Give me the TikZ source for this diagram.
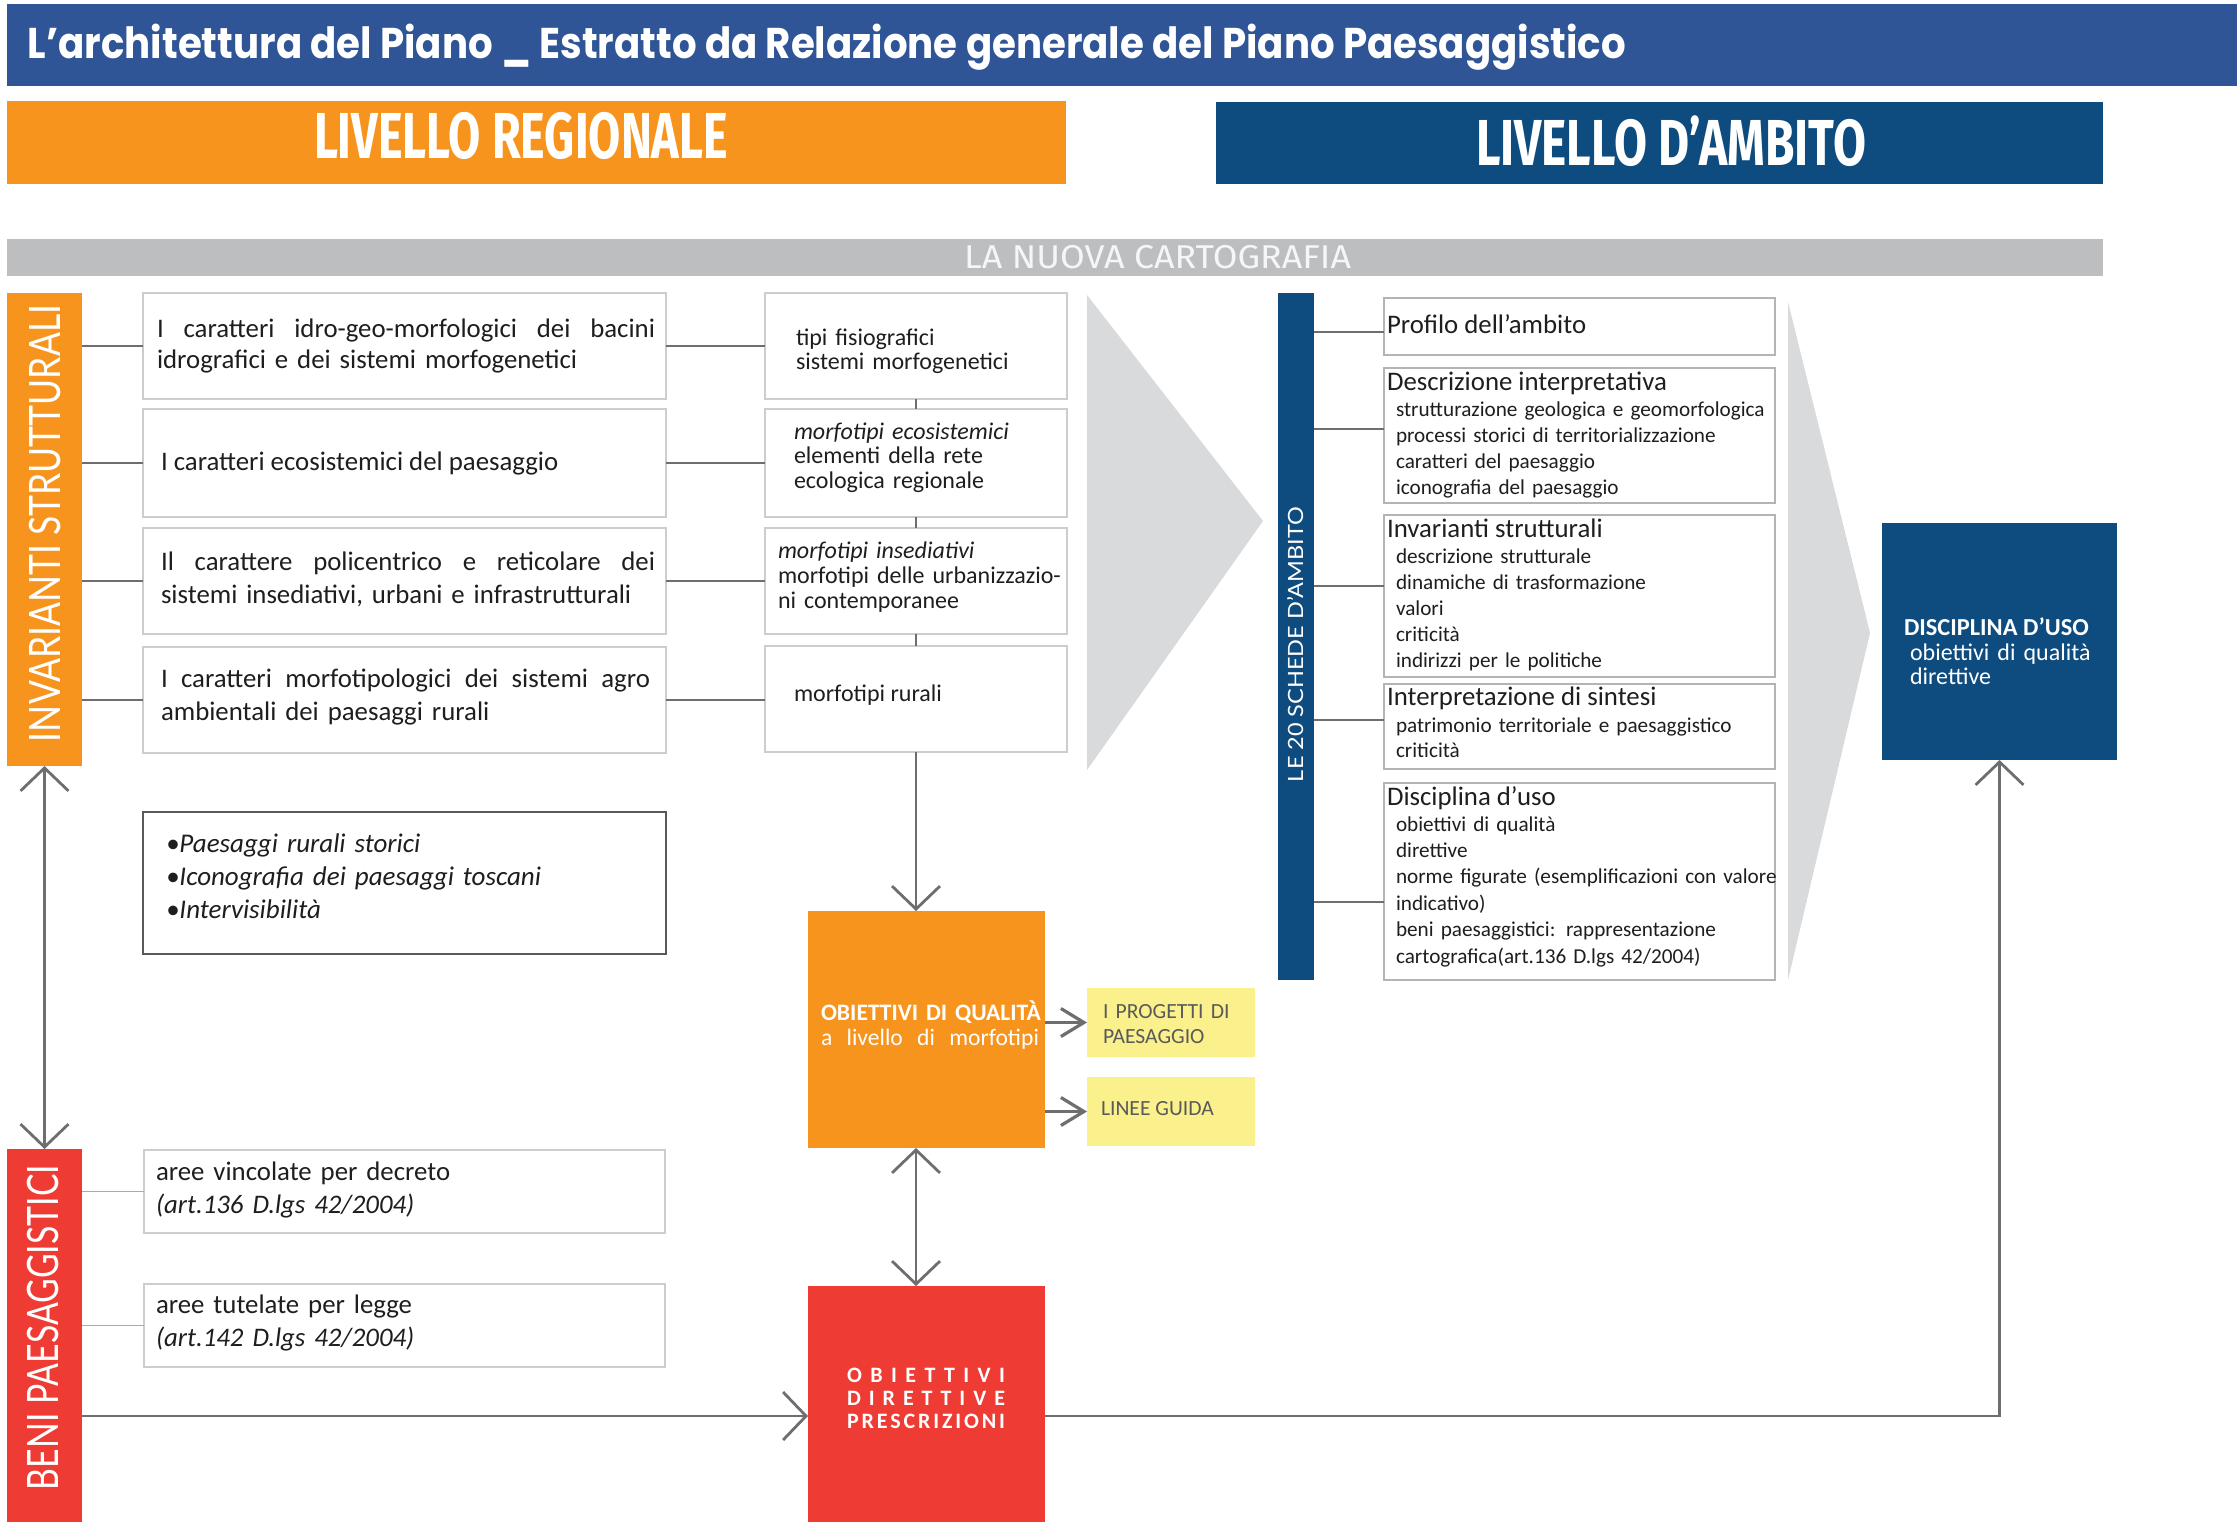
\documentclass[tikz,border=0pt]{standalone}
\usepackage{graphicx}
\usepackage{fontspec}
\setmainfont{Carlito}
\newfontfamily\popf{Poppins}
\newfontfamily\firaf{Fira Sans}
\newfontfamily\latof{Lato}
\usetikzlibrary{arrows.meta,calc}
\definecolor{titleblue}{RGB}{47,85,151}
\definecolor{orng}{RGB}{247,148,30}
\definecolor{dblue}{RGB}{14,76,127}
\definecolor{barg}{RGB}{189,190,192}
\definecolor{chev}{RGB}{217,218,220}
\definecolor{redb}{RGB}{238,59,51}
\definecolor{yel}{RGB}{250,240,140}
\definecolor{conn}{RGB}{110,110,112}
\definecolor{connl}{RGB}{170,170,170}
\definecolor{boxb}{RGB}{205,205,205}
\definecolor{boxc}{RGB}{180,180,180}
\definecolor{txt}{RGB}{30,30,30}
\definecolor{ytxt}{RGB}{90,90,90}
\newcommand{\fs}[2]{\fontsize{#1}{#2}\selectfont}
\newcommand{\hw}[2]{\resizebox{#1}{\height}{#2}}
\newcommand{\jline}[2]{\makebox[#1][s]{\spaceskip=0.22em plus 1fil\relax #2}}
\tikzset{
  fl/.style={inner sep=0pt, outer sep=0pt, anchor=north west},
  bx/.style={fl, draw=boxb, line width=0.75pt, fill=white},
  bxr/.style={fl, draw=boxc, line width=0.75pt, fill=white},
  tx/.style={inner sep=0pt, outer sep=0pt, anchor=base west, text=txt, align=left},
  cn/.style={draw=conn, line width=1.2pt},
  cnl/.style={draw=connl, line width=0.8pt},
  arrbig/.style={draw=conn, line width=1.4pt, -{Straight Barb[length=11.5pt,width=24pt]}},
  arrboth/.style={draw=conn, line width=1.4pt, {Straight Barb[length=11.5pt,width=24pt]}-{Straight Barb[length=11.5pt,width=24pt]}},
  arrsm/.style={draw=conn, line width=1.6pt, -{Straight Barb[length=11.5pt,width=14pt]}},
  rot/.style={inner sep=0pt, outer sep=0pt, anchor=base west, rotate=90, text=white}
}
\begin{document}
\begin{tikzpicture}[x=0.5pt,y=-0.5pt]
\useasboundingbox (0,0) rectangle (2237,1526);
\fill[white] (0,0) rectangle (2237,1526);
% chevrons
\fill[chev] (1087,295) -- (1263,521) -- (1087,770) -- cycle;
\fill[chev] (1788,302) -- (1870,633) -- (1788,980) -- cycle;
% header bars
\node[fl, fill=titleblue, minimum width=1115pt, minimum height=41pt] (ttl) at (7,4) {};
\node[tx, text=white, font=\popf\bfseries\fs{21.5pt}{22pt}] (ttltx) at (28,58) {\hw{799pt}{L’architettura del Piano \_ Estratto da Relazione generale del Piano Paesaggistico}};
\node[fl, fill=orng, minimum width=529.5pt, minimum height=41.5pt] (reg) at (7,101) {};
\node[tx, text=white, font=\firaf\bfseries\fs{32.5pt}{33pt}] (regtx) at (314,158) {\hw{207pt}{LIVELLO REGIONALE}};
\node[fl, fill=dblue, minimum width=443.5pt, minimum height=41pt] (amb) at (1216,102) {};
\node[tx, text=white, font=\firaf\bfseries\fs{32.5pt}{33pt}] (ambtx) at (1476,165) {\hw{195pt}{LIVELLO D’AMBITO}};
\node[fl, fill=barg, minimum width=1048pt, minimum height=18.5pt] (carto) at (7,239) {};
\node[tx, text={rgb,255:red,246;green,246;blue,246}, font=\firaf\fs{16.5pt}{17pt}] (cartotx) at (964,268) {\hw{193.5pt}{LA NUOVA CARTOGRAFIA}};
% vertical bars
\node[fl, fill=orng, minimum width=37.5pt, minimum height=236.5pt] (inv) at (7,293) {};
\node[rot, font=\latof\fs{21.6pt}{22pt}] (invtx) at (60,742) {\hw{218.5pt}{INVARIANTI STRUTTURALI}};
\node[fl, fill=redb, minimum width=37.5pt, minimum height=186.5pt] (beni) at (7,1149) {};
\node[rot, font=\latof\fs{21.6pt}{22pt}] (benitx) at (58,1490) {\hw{162.5pt}{BENI PAESAGGISTICI}};
\node[fl, fill=dblue, minimum width=18pt, minimum height=343.5pt] (sch) at (1278,293) {};
\node[rot, font=\latof\fs{10.5pt}{11pt}] (schtx) at (1303,782) {\hw{137.5pt}{LE 20 SCHEDE D’AMBITO}};
% column 1 boxes
\node[bx, minimum width=261.5pt, minimum height=53pt] (c1a) at (143,293) {};
\node[bx, minimum width=261.5pt, minimum height=54pt] (c1b) at (143,409) {};
\node[bx, minimum width=261.5pt, minimum height=53pt] (c1c) at (143,528) {};
\node[bx, minimum width=261.5pt, minimum height=53pt] (c1d) at (143,647) {};
\node[tx, text width=255pt, font=\fs{13.4pt}{15.5pt}] (t1a) at (157,337) {\jline{249pt}{I caratteri idro-geo-morfologici dei bacini}\\idrografici e dei sistemi morfogenetici};
\node[tx, font=\fs{13.4pt}{15.5pt}] (t1b) at (161,470) {I caratteri ecosistemici del paesaggio};
\node[tx, text width=255pt, font=\fs{13.4pt}{16.5pt}] (t1c) at (161,570) {\jline{247pt}{Il carattere policentrico e reticolare dei}\\sistemi insediativi, urbani e infrastrutturali};
\node[tx, text width=255pt, font=\fs{13.4pt}{16.5pt}] (t1d) at (161,687) {\jline{244.5pt}{I caratteri morfotipologici dei sistemi agro}\\ambientali dei paesaggi rurali};
% column 2 boxes
\node[bx, minimum width=151pt, minimum height=53pt] (c2a) at (765,293) {};
\node[bx, minimum width=151pt, minimum height=54pt] (c2b) at (765,409) {};
\node[bx, minimum width=151pt, minimum height=53pt] (c2c) at (765,528) {};
\node[bx, minimum width=151pt, minimum height=53pt] (c2d) at (765,646) {};
\node[tx, text width=150pt, font=\fs{12pt}{12pt}] (t2a) at (796,345) {tipi fisiografici\\sistemi morfogenetici};
\node[tx, text width=150pt, font=\fs{12pt}{12.4pt}] (t2b) at (794,439) {\textit{morfotipi ecosistemici}\\elementi della rete\\ecologica regionale};
\node[tx, text width=150pt, font=\fs{12pt}{12.5pt}] (t2c) at (778,558) {\textit{morfotipi insediativi}\\morfotipi delle urbanizzazio-\\ni contemporanee};
\node[tx, font=\fs{12pt}{12.5pt}] (t2d) at (794,701) {morfotipi rurali};
% bullet box
\node[fl, draw=black!65, line width=1.3pt, fill=white, minimum width=261.5pt, minimum height=71pt] (bul) at (143,812) {};
\node[tx, text width=250pt, font=\fs{13.5pt}{16.5pt}\itshape] (tbul) at (166,852) {•Paesaggi rurali storici\\•Iconografia dei paesaggi toscani\\•Intervisibilità};
% beni boxes
\node[bx, minimum width=260.5pt, minimum height=41.5pt] (b1) at (144,1150) {};
\node[bx, minimum width=260.5pt, minimum height=41.5pt] (b2) at (144,1284) {};
\node[tx, text width=250pt, font=\fs{13.4pt}{16.5pt}] (tb1) at (156,1180) {aree vincolate per decreto\\\textit{(art.136 D.lgs 42/2004)}};
\node[tx, text width=250pt, font=\fs{13.4pt}{16.5pt}] (tb2) at (156,1313) {aree tutelate per legge\\\textit{(art.142 D.lgs 42/2004)}};
% orange / red / yellow boxes
\node[fl, fill=orng, minimum width=118.5pt, minimum height=118.5pt] (obj) at (808,911) {};
\node[tx, text=white, text width=115pt, font=\fs{11.8pt}{12.5pt}] (tobj) at (821,1020) {\textbf{OBIETTIVI DI QUALITÀ}\\\jline{109pt}{a livello di morfotipi}};
\node[fl, fill=redb, minimum width=118.5pt, minimum height=118pt] (red) at (808,1286) {};
\node[tx, text=white, text width=90pt, font=\bfseries\fs{11pt}{11.5pt}] (tred) at (847,1382) {\makebox[79pt][s]{O\hfill B\hfill I\hfill E\hfill T\hfill T\hfill I\hfill V\hfill I}\\\makebox[79pt][s]{D\hfill I\hfill R\hfill E\hfill T\hfill T\hfill I\hfill V\hfill E}\\\makebox[79pt][s]{P\hfill R\hfill E\hfill S\hfill C\hfill R\hfill I\hfill Z\hfill I\hfill O\hfill N\hfill I}};
\node[fl, fill=yel, minimum width=84pt, minimum height=34.5pt] (y1) at (1087,988) {};
\node[fl, fill=yel, minimum width=84pt, minimum height=34.5pt] (y2) at (1087,1077) {};
\node[tx, text=ytxt, text width=80pt, font=\fs{10.8pt}{12.5pt}] (ty1) at (1103,1018) {I PROGETTI DI\\PAESAGGIO};
\node[tx, text=ytxt, font=\fs{10.8pt}{12.5pt}] (ty2) at (1101,1115) {LINEE GUIDA};
% disciplina box
\node[fl, fill=dblue, minimum width=117.5pt, minimum height=118.5pt] (disc) at (1882,523) {};
\node[tx, text=white, font=\bfseries\fs{12.2pt}{12.5pt}] (tdisc) at (1904,635) {DISCIPLINA D’USO};
\node[tx, text=white, text width=100pt, font=\fs{12pt}{12pt}] (tdisc2) at (1910,660) {obiettivi di qualità\\direttive};
% column 3 boxes
\node[bxr, minimum width=195.5pt, minimum height=28.5pt] (r1) at (1384,298) {};
\node[bxr, minimum width=195.5pt, minimum height=67.5pt] (r2) at (1384,368) {};
\node[bxr, minimum width=195.5pt, minimum height=81pt] (r3) at (1384,515) {};
\node[bxr, minimum width=195.5pt, minimum height=42.5pt] (r4) at (1384,684) {};
\node[bxr, minimum width=195.5pt, minimum height=98.5pt] (r5) at (1384,783) {};
\node[tx, font=\fs{13.4pt}{14pt}] (tr1) at (1387,333) {Profilo dell’ambito};
\node[tx, font=\fs{13.4pt}{14pt}] (tr2) at (1387,390) {Descrizione interpretativa};
\node[tx, text width=220pt, font=\fs{10.6pt}{13.15pt}] (tr2b) at (1396,416) {strutturazione geologica e geomorfologica\\processi storici di territorializzazione\\caratteri del paesaggio\\iconografia del paesaggio};
\node[tx, font=\fs{13.4pt}{14pt}] (tr3) at (1387,537) {Invarianti strutturali};
\node[tx, text width=220pt, font=\fs{10.6pt}{13.1pt}] (tr3b) at (1396,563) {descrizione strutturale\\dinamiche di trasformazione\\valori\\criticità\\indirizzi per le politiche};
\node[tx, font=\fs{13.4pt}{14pt}] (tr4) at (1387,705) {Interpretazione di sintesi};
\node[tx, text width=220pt, font=\fs{10.6pt}{12.5pt}] (tr4b) at (1396,732) {patrimonio territoriale e paesaggistico\\criticità};
\node[tx, font=\fs{13.4pt}{14pt}] (tr5) at (1387,805) {Disciplina d’uso};
\node[tx, text width=220pt, font=\fs{10.6pt}{13.2pt}] (tr5b) at (1396,831) {obiettivi di qualità\\direttive\\norme figurate (esemplificazioni con valore\\indicativo)\\beni paesaggistici: rappresentazione\\cartografica(art.136 D.lgs 42/2004)};
% connectors
\draw[cn] (inv.east |- c1a.west) -- (c1a.west);
\draw[cn] (inv.east |- c1b.west) -- (c1b.west);
\draw[cn] (inv.east |- c1c.west) -- (c1c.west);
\draw[cn] (inv.east |- c1d.west) -- (c1d.west);
\draw[cn] (c1a.east) -- (c1a.east -| c2a.west);
\draw[cn] (c1b.east) -- (c1b.east -| c2b.west);
\draw[cn] (c1c.east) -- (c1c.east -| c2c.west);
\draw[cn] (c1d.east) -- (c1d.east -| c2d.west);
\draw[cn] (c2a.south) -- (c2b.north);
\draw[cn] (c2b.south) -- (c2c.north);
\draw[cn] (c2c.south) -- (c2d.north);
\draw[arrbig] (c2d.south) -- (c2d.south |- obj.north);
\draw[arrboth] (c2d.south |- obj.south) -- (c2d.south |- red.north);
\draw[arrsm] (obj.east |- y1.west) -- (y1.west);
\draw[arrsm] (obj.east |- y2.west) -- (y2.west);
\draw[arrboth] (inv.south) -- (beni.north);
\draw[cnl] (beni.east |- b1.west) -- (b1.west);
\draw[cnl] (beni.east |- b2.west) -- (b2.west);
\coordinate (redin) at ($(red.west)+(0,12)$);
\coordinate (redout) at ($(red.east)+(0,12)$);
\draw[arrbig] (beni.east |- redin) -- (redin);
\draw[arrbig] (redout) -- (redout -| disc.south) -- (disc.south);
\coordinate (k1) at (1384,332);
\coordinate (k2) at (1384,429);
\coordinate (k3) at (1384,586);
\coordinate (k4) at (1384,720);
\coordinate (k5) at (1384,902);
\draw[cn] (sch.east |- k1) -- (k1);
\draw[cn] (sch.east |- k2) -- (k2);
\draw[cn] (sch.east |- k3) -- (k3);
\draw[cn] (sch.east |- k4) -- (k4);
\draw[cn] (sch.east |- k5) -- (k5);
\end{tikzpicture}
\end{document}
